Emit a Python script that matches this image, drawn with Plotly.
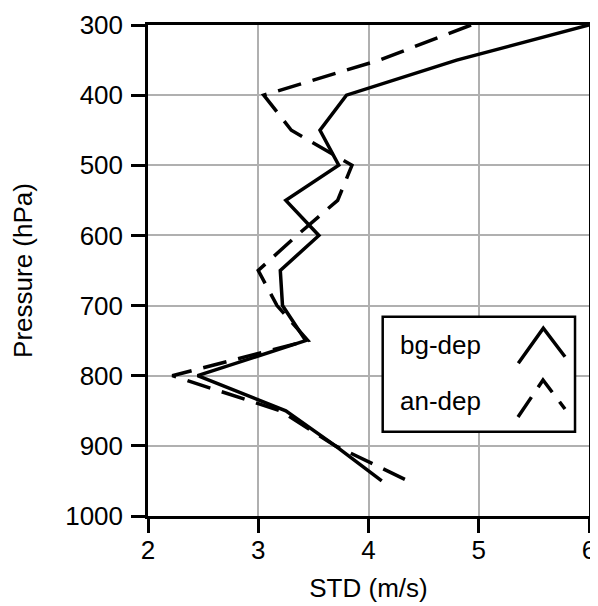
import plotly.graph_objects as go

# Data
pressure = [300, 350, 400, 450, 500, 550, 600, 650, 700, 750, 800, 850, 900, 950]
bg_dep = [6.0, 4.8, 3.8, 3.56, 3.73, 3.25, 3.55, 3.2, 3.22, 3.43, 2.45, 3.25, 3.7, 4.12]
an_dep = [4.93, 4.1, 3.05, 3.3, 3.85, 3.72, 3.35, 3.0, 3.17, 3.45, 2.22, 3.2, 3.7, 4.36]

series_names = ["bg-dep", "an-dep"]
x_ticks = [2, 3, 4, 5, 6]
y_ticks = [300, 400, 500, 600, 700, 800, 900, 1000]

FONT = "Liberation Sans, Arial, Helvetica, sans-serif"
DASH = "24px,12px"

fig = go.Figure()
fig.add_trace(go.Scatter(x=bg_dep, y=pressure, mode="lines", name=series_names[0],
                         line=dict(color="black", width=3.5), showlegend=False))
fig.add_trace(go.Scatter(x=an_dep, y=pressure, mode="lines", name=series_names[1],
                         line=dict(color="black", width=3.5, dash=DASH), showlegend=False))

# custom legend box (mimicking the reference's chevron-style samples)
fig.add_shape(type="rect", xref="paper", yref="paper", x0=0.5322, x1=0.9683, y0=0.1717, y1=0.4059,
              line=dict(color="black", width=2.5), fillcolor="white", layer="above")
fig.add_annotation(xref="paper", yref="paper", x=0.5658, y=0.348, text=series_names[0],
                   showarrow=False, xanchor="left", yanchor="middle",
                   font=dict(family=FONT, size=26, color="black"))
fig.add_annotation(xref="paper", yref="paper", x=0.5658, y=0.234, text=series_names[1],
                   showarrow=False, xanchor="left", yanchor="middle",
                   font=dict(family=FONT, size=26, color="black"))
fig.add_shape(type="path", xref="paper", yref="paper",
              path="M 0.8397 0.311 L 0.8964 0.3823 L 0.9456 0.3244",
              line=dict(color="black", width=3.5), layer="above")
fig.add_shape(type="path", xref="paper", yref="paper",
              path="M 0.839 0.2016 L 0.8957 0.277 L 0.9456 0.2179",
              line=dict(color="black", width=3.5, dash=DASH), layer="above")

axis_common = dict(
    showline=True, linecolor="black", linewidth=2.5, mirror=True,
    ticks="outside", ticklen=14, tickwidth=2.5, tickcolor="black",
    showgrid=True, gridcolor="#b0b0b0", gridwidth=1.5,
    zeroline=False, ticklabeloverflow="allow",
    tickfont=dict(family=FONT, size=26, color="black"),
)

fig.update_xaxes(range=[2, 6], tickvals=x_ticks, ticktext=[str(v) for v in x_ticks],
                 title=dict(text="STD (m/s)", font=dict(family=FONT, size=26, color="black"), standoff=15),
                 ticklabelstandoff=-5, **axis_common)
fig.update_yaxes(range=[1000, 300], tickvals=y_ticks, ticktext=[str(v) for v in y_ticks],
                 title=dict(text="Pressure (hPa)", font=dict(family=FONT, size=26, color="black"), standoff=28),
                 ticklabelstandoff=3, **axis_common)

# page body has an 8px margin, so the figure is 8px smaller than the window
fig.update_layout(
    width=590, height=598,
    margin=dict(l=140, r=9, t=17, b=90, autoexpand=False),
    plot_bgcolor="white", paper_bgcolor="white",
    font=dict(family=FONT, size=26, color="black"),
)

fig.write_html("out.html")
